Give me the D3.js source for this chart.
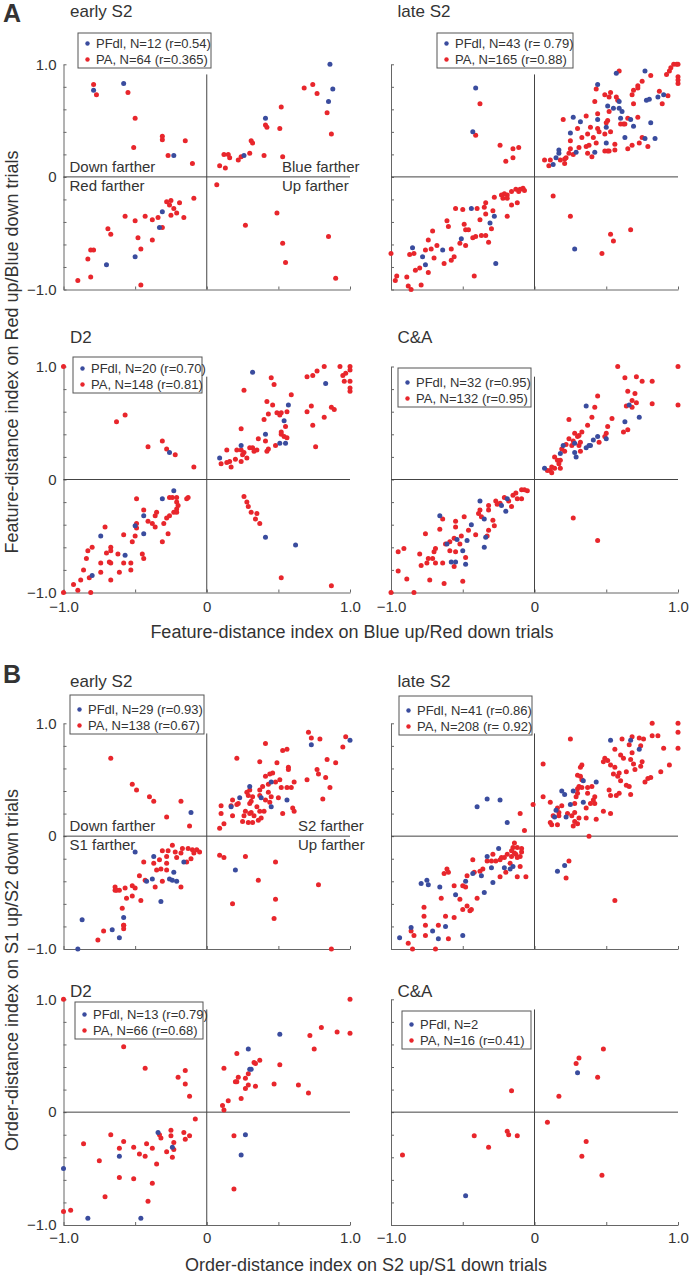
<!DOCTYPE html>
<html><head><meta charset="utf-8">
<script src="https://cdn.jsdelivr.net/npm/d3@7"></script>
<style>
body{margin:0;background:#fff}
svg{display:block}
text{font-family:"Liberation Sans",Arial,Helvetica,sans-serif;fill:#333}
</style>
</head><body>
<svg id="chart" width="691" height="1280"></svg>
<script>
// ---------- tick labels ----------
const yTickValues = [-1,-0.8,-0.6,-0.4,-0.2,0,0.2,0.4,0.6,0.8,1];
const xTickValues = [-1,-0.5,0,0.5,1];
const labeledTicks = [-1,0,1];
const tickLabels = ["−1.0","0","1.0"];

// ---------- titles / legends ----------
const panelTitles = ["early S2","late S2","D2","C&A","early S2","late S2","D2","C&A"];
const blueLegend = ["PFdl, N=12 (r=0.54)","PFdl, N=43 (r= 0.79)","PFdl, N=20 (r=0.70)","PFdl, N=32 (r=0.95)",
                    "PFdl, N=29 (r=0.93)","PFdl, N=41 (r=0.86)","PFdl, N=13 (r=0.79)","PFdl, N=2"];
const redLegend  = ["PA, N=64 (r=0.365)","PA, N=165 (r=0.88)","PA, N=148 (r=0.81)","PA, N=132 (r=0.95)",
                    "PA, N=138 (r=0.67)","PA, N=208 (r= 0.92)","PA, N=66 (r=0.68)","PA, N=16 (r=0.41)"];
const quadLabelsA = ["Down farther","Red farther","Blue farther","Up farther"];
const quadLabelsB = ["Down farther","S1 farther","S2 farther","Up farther"];
const axisTitles = ["Feature-distance index on Blue up/Red down trials","Feature-distance index on Red up/Blue down trials",
                    "Order-distance index on S2 up/S1 down trials","Order-distance index on S1 up/S2 down trials"];

// ---------- data: A early S2 ----------
const aEarlyBlue = [[0.86,1.0],[0.88,0.78],[0.85,0.67],[0.41,0.52],[0.26,0.19],[-0.23,0.19],[-0.58,0.83],[-0.79,0.77],
 [-0.31,-0.31],[-0.33,-0.45],[-0.50,-0.71],[-0.70,-0.78]];
const aEarlyRed = [[-0.79,0.82],[-0.77,0.73],[-0.55,0.75],[-0.50,0.52],[-0.51,0.26],[-0.31,0.36],[-0.31,0.33],[-0.15,0.32],[-0.27,0.19],[-0.10,0.12],
 [0.68,0.79],[0.74,0.82],[0.77,0.74],[0.52,0.62],[0.84,0.57],[0.87,0.38],[0.41,0.46],[0.42,0.44],[0.51,0.43],[0.31,0.32],[0.32,0.30],[0.30,0.21],[0.40,0.19],[0.53,0.18],[0.12,0.20],[0.15,0.20],[0.16,0.17],[0.09,0.10],[0.13,0.08],[0.22,0.15],[0.24,0.18],
 [0.07,-0.07],[0.27,-0.43],[0.49,-0.32],[0.53,-0.59],[0.55,-0.76],[0.85,-0.53],[0.90,-0.90],
 [-0.09,-0.19],[-0.19,-0.23],[-0.25,-0.21],[-0.28,-0.22],[-0.26,-0.25],[-0.23,-0.28],[-0.21,-0.32],[-0.25,-0.34],[-0.16,-0.36],[-0.34,-0.36],[-0.38,-0.38],[-0.43,-0.35],[-0.50,-0.39],[-0.57,-0.35],[-0.31,-0.45],[-0.69,-0.46],[-0.67,-0.51],[-0.48,-0.54],[-0.38,-0.56],[-0.46,-0.64],[-0.81,-0.65],[-0.79,-0.65],[-0.83,-0.73],[-0.81,-0.89],[-0.90,-0.92],[-0.46,-0.96]];

// ---------- data: A late S2 ----------
const aLateBlue = [[0.57,0.92],[0.77,0.94],[0.44,0.82],[-0.41,0.79],[-0.43,0.40],[0.51,0.63],[0.55,0.61],[0.59,0.67],[0.59,0.61],[0.61,0.58],[0.60,0.52],[0.67,0.51],[0.78,0.68],[0.80,0.69],[0.86,0.71],[0.90,0.73],[0.81,0.48],[0.69,0.45],[0.50,0.44],[0.44,0.51],[0.32,0.49],[0.27,0.53],[0.25,0.39],[0.50,0.30],[0.63,0.35],[0.77,0.34],[0.84,0.34],[0.42,0.22],[0.29,0.22],[0.17,0.24],[0.17,0.21],[0.15,0.17],[0.13,0.11],
 [-0.44,-0.28],[-0.28,-0.35],[-0.31,-0.41],[-0.51,-0.55],[-0.64,-0.65],[-0.85,-0.63],[-0.78,-0.71],[-0.76,-0.78],[-0.27,-0.77],[0.28,-0.64]];
const aLateRed = [[-0.38,0.65],[-0.41,0.37],[-0.24,0.28],[-0.15,0.25],[-0.11,0.26],[-0.15,0.17],[-0.20,0.14],
 [0.13,-0.17],[0.25,-0.35],[0.53,-0.51],[0.55,-0.57],[0.67,-0.47],[0.47,-0.68],
 [0.59,0.94],[0.97,1.0],[0.99,1.0],[1.0,1.0],[0.95,0.97],[0.94,0.94],[0.92,0.91],[1.0,0.89],[1.0,0.86],[1.0,0.83],[0.81,0.90],[0.75,0.85],[0.72,0.81],[0.72,0.79],[0.69,0.77],[0.87,0.76],[0.93,0.72],[0.89,0.65],[0.68,0.73],[0.69,0.65],[0.72,0.53],[0.65,0.52],[0.62,0.47],[0.60,0.47],[0.63,0.47],[0.53,0.75],[0.52,0.71],[0.57,0.71],[0.58,0.68],[0.49,0.73],[0.43,0.78],[0.42,0.67],[0.44,0.56],[0.52,0.58],[0.51,0.50],[0.50,0.48],[0.53,0.40],[0.44,0.43],[0.45,0.40],[0.39,0.44],[0.36,0.54],[0.37,0.38],[0.41,0.35],[0.33,0.35],[0.43,0.30],[0.49,0.23],[0.51,0.23],[0.52,0.23],[0.56,0.29],[0.49,0.38],[0.20,0.51],[0.30,0.43],[0.25,0.25],[0.24,0.21],[0.27,0.20],[0.22,0.17],[0.21,0.16],[0.18,0.15],[0.11,0.15],[0.07,0.15],[0.10,0.10],[0.31,0.26],[0.36,0.27],[0.38,0.28],[0.37,0.21],[0.40,0.18],[0.75,0.35],[0.79,0.27],[0.73,0.30],[0.68,0.28],[0.65,0.25],[0.56,0.24],[0.25,0.32],[0.21,0.12],
 [-0.08,-0.10],[-0.07,-0.12],[-0.10,-0.11],[-0.11,-0.13],[-0.13,-0.11],[-0.16,-0.13],[-0.19,-0.16],[-0.21,-0.15],[-0.23,-0.16],[-0.22,-0.19],[-0.19,-0.19],[-0.28,-0.18],[-0.16,-0.25],[-0.12,-0.23],[-0.34,-0.23],[-0.35,-0.27],[-0.40,-0.28],[-0.55,-0.28],[-0.50,-0.29],[-0.29,-0.30],[-0.34,-0.33],[-0.19,-0.35],[-0.38,-0.38],[-0.49,-0.42],[-0.48,-0.47],[-0.46,-0.47],[-0.30,-0.46],[-0.61,-0.39],[-0.60,-0.44],[-0.71,-0.48],[-0.41,-0.53],[-0.37,-0.52],[-0.34,-0.52],[-0.43,-0.54],[-0.52,-0.59],[-0.48,-0.61],[-0.32,-0.58],[-0.74,-0.56],[-0.68,-0.61],[-0.72,-0.64],[-0.58,-0.64],[-0.76,-0.65],[-0.84,-0.68],[-0.87,-0.69],[-1.0,-0.68],[-0.70,-0.72],[-0.63,-0.77],[-0.58,-0.74],[-0.56,-0.71],[-0.83,-0.83],[-0.80,-0.81],[-0.74,-0.85],[-0.96,-0.88],[-0.97,-0.92],[-0.89,-0.89],[-0.88,-0.97],[-0.86,-1.0],[-0.79,-0.96],[-0.42,-0.88]];

// ---------- data: A D2 ----------
const aD2Blue = [[0.32,0.95],[0.83,0.85],[0.57,0.66],[0.54,0.52],[0.41,0.40],[0.24,0.30],[0.51,0.32],[0.55,0.32],[0.09,0.19],[-0.26,0.24],
 [-0.23,-0.10],[-0.31,-0.17],[-0.44,-0.32],[-0.50,-0.41],[-0.44,-0.48],[-0.74,-0.50],[-0.57,-0.67],[-0.80,-0.85],[0.41,-0.51],[0.62,-0.58]];
const aD2Red = [[-1.0,1.0],[-0.63,0.51],[-0.57,0.57],[-0.41,0.29],[-0.31,0.34],[-0.28,0.27],[-0.22,0.22],[-0.09,0.11],
 [0.26,-0.15],[0.28,-0.20],[0.29,-0.24],[0.31,-0.29],[0.35,-0.30],[0.34,-0.35],[0.37,-0.39],[0.52,-0.87],[0.87,-0.94],
 [0.93,1.0],[1.0,1.0],[1.0,0.97],[0.95,0.92],[0.97,0.94],[1.0,0.87],[0.96,0.87],[1.0,0.81],[1.0,0.78],[0.82,1.0],[0.77,0.96],[0.74,0.92],[0.70,0.91],[0.45,0.90],[0.47,0.84],[0.26,0.79],[0.59,0.75],[0.42,0.69],[0.46,0.66],[0.73,0.65],[0.87,0.64],[0.89,0.62],[0.70,0.60],[0.43,0.58],[0.49,0.59],[0.51,0.57],[0.52,0.59],[0.56,0.60],[0.82,0.55],[0.40,0.53],[0.74,0.48],[0.55,0.47],[0.24,0.45],[0.52,0.42],[0.52,0.40],[0.54,0.38],[0.36,0.36],[0.41,0.34],[0.56,0.37],[0.48,0.30],[0.76,0.29],[0.32,0.28],[0.30,0.28],[0.43,0.27],[0.42,0.25],[0.35,0.26],[0.33,0.25],[0.14,0.26],[0.21,0.26],[0.24,0.26],[0.26,0.24],[0.28,0.19],[0.24,0.16],[0.20,0.18],[0.25,0.22],[0.16,0.16],[0.14,0.15],[0.10,0.14],[0.17,0.11],
 [-0.13,-0.16],[-0.14,-0.17],[-0.21,-0.16],[-0.24,-0.16],[-0.26,-0.16],[-0.21,-0.20],[-0.20,-0.23],[-0.21,-0.26],[-0.23,-0.29],[-0.21,-0.29],[-0.26,-0.32],[-0.28,-0.34],[-0.35,-0.29],[-0.36,-0.32],[-0.44,-0.27],[-0.49,-0.17],[-0.41,-0.37],[-0.38,-0.39],[-0.36,-0.42],[-0.30,-0.39],[-0.27,-0.48],[-0.31,-0.55],[-0.49,-0.39],[-0.49,-0.43],[-0.50,-0.50],[-0.52,-0.55],[-0.58,-0.49],[-0.71,-0.42],[-0.67,-0.60],[-0.67,-0.63],[-0.62,-0.66],[-0.70,-0.65],[-0.58,-0.74],[-0.53,-0.74],[-0.53,-0.80],[-0.61,-0.82],[-0.67,-0.74],[-0.68,-0.73],[-0.74,-0.74],[-0.74,-0.82],[-0.67,-0.89],[-0.45,-0.66],[-0.44,-0.70],[-0.83,-0.63],[-0.84,-0.70],[-0.80,-0.60],[-0.86,-0.80],[-0.82,-0.87],[-0.88,-0.89],[-0.93,-0.93],[-0.90,-0.98],[-1.0,-1.0],[-0.81,-1.0]];

// ---------- data: A C&A ----------
const aCABlue = [[0.36,0.65],[0.66,0.66],[0.73,0.55],[0.63,0.51],[0.50,0.36],[0.44,0.38],[0.41,0.35],[0.39,0.30],[0.38,0.30],[0.36,0.28],[0.28,0.32],[0.28,0.24],[0.29,0.20],[0.20,0.30],[0.18,0.23],[0.07,0.10],
 [-0.19,-0.17],[-0.20,-0.28],[-0.23,-0.23],[-0.38,-0.19],[-0.35,-0.35],[-0.34,-0.51],[-0.35,-0.60],[-0.44,-0.40],[-0.47,-0.54],[-0.50,-0.63],[-0.48,-0.75],[-0.54,-0.53],[-0.58,-0.73],[-0.61,-0.57],[-0.66,-0.32],[-0.55,-0.73]];
const aCARed = [[0.58,1.0],[1.0,1.0],[1.0,0.66],[0.82,0.67],[0.82,0.87],[0.75,0.87],[0.71,0.91],[0.63,0.90],[0.65,0.78],[0.70,0.76],[0.68,0.70],[0.71,0.68],[0.64,0.65],[0.68,0.64],[0.44,0.74],[0.42,0.64],[0.40,0.55],[0.37,0.48],[0.24,0.53],[0.54,0.54],[0.51,0.47],[0.65,0.44],[0.62,0.42],[0.50,0.41],[0.49,0.38],[0.45,0.33],[0.33,0.42],[0.31,0.39],[0.28,0.41],[0.30,0.38],[0.27,0.34],[0.31,0.30],[0.32,0.33],[0.26,0.30],[0.22,0.31],[0.24,0.36],[0.19,0.27],[0.21,0.25],[0.18,0.17],[0.14,0.20],[0.16,0.17],[0.17,0.14],[0.12,0.11],[0.18,0.10],[0.14,0.10],[0.11,0.08],[0.09,0.08],[0.12,0.06],[0.32,0.25],
 [0.27,-0.34],[0.44,-0.54],
 [-0.09,-0.09],[-0.05,-0.10],[-0.07,-0.09],[-0.13,-0.12],[-0.15,-0.14],[-0.12,-0.17],[-0.09,-0.17],[-0.16,-0.24],[-0.18,-0.19],[-0.21,-0.16],[-0.27,-0.19],[-0.26,-0.22],[-0.24,-0.21],[-0.32,-0.23],[-0.32,-0.27],[-0.38,-0.27],[-0.39,-0.30],[-0.37,-0.33],[-0.29,-0.36],[-0.28,-0.41],[-0.32,-0.45],[-0.33,-0.50],[-0.41,-0.49],[-0.49,-0.33],[-0.46,-0.45],[-0.51,-0.50],[-0.52,-0.57],[-0.48,-0.69],[-0.55,-0.37],[-0.55,-0.42],[-0.56,-0.52],[-0.59,-0.55],[-0.59,-0.63],[-0.55,-0.64],[-0.56,-0.77],[-0.64,-0.35],[-0.66,-0.44],[-0.76,-0.48],[-0.62,-0.57],[-0.69,-0.61],[-0.70,-0.64],[-0.71,-0.70],[-0.74,-0.70],[-0.75,-0.74],[-0.80,-0.66],[-0.79,-0.76],[-0.69,-0.74],[-0.64,-0.74],[-0.73,-0.89],[-0.63,-0.92],[-0.50,-0.90],[-0.89,-0.88],[-0.95,-0.81],[-0.95,-0.64],[-0.91,-0.61],[-0.84,-1.0],[-1.0,-1.0]];

// ---------- data: B early S2 ----------
const bEarlyBlue = [[1.0,0.85],[0.73,0.81],[0.45,0.48],[0.30,0.44],[0.23,0.34],[0.38,0.34],[0.56,0.32],[0.45,0.26],[0.17,0.26],[-0.11,0.21],[0.20,-0.30],
 [-0.50,-0.14],[-0.37,-0.18],[-0.16,-0.23],[-0.23,-0.32],[-0.26,-0.38],[-0.21,-0.40],[-0.24,-0.39],[-0.38,-0.38],[-0.42,-0.40],[-0.32,-0.58],[-0.58,-0.72],[-0.87,-0.74],[-0.66,-0.83],[-0.61,-0.90],[-0.90,-1.0]];
const bEarlyRed = [[-0.67,0.69],[-0.52,0.46],[-0.49,0.41],[-0.40,0.35],[-0.37,0.31],[-0.18,0.31],[-0.28,0.17],[-0.12,0.09],
 [0.09,-0.17],[0.12,-0.19],[0.27,-0.18],[0.48,-0.23],[0.36,-0.39],[0.78,-0.43],[0.48,-0.56],[0.18,-0.60],[0.47,-0.73],[0.87,-1.0],
 [0.71,0.92],[0.73,0.87],[0.79,0.86],[0.97,0.88],[0.95,0.79],[0.41,0.82],[0.53,0.76],[0.56,0.77],[0.21,0.69],[0.84,0.68],[0.90,0.65],[0.37,0.66],[0.49,0.65],[0.57,0.61],[0.57,0.59],[0.77,0.59],[0.78,0.55],[0.46,0.56],[0.44,0.55],[0.41,0.53],[0.83,0.52],[0.70,0.50],[0.51,0.50],[0.48,0.48],[0.61,0.48],[0.43,0.46],[0.39,0.44],[0.86,0.43],[0.52,0.43],[0.56,0.43],[0.59,0.43],[0.30,0.41],[0.37,0.41],[0.28,0.39],[0.43,0.39],[0.29,0.36],[0.32,0.35],[0.37,0.36],[0.45,0.35],[0.50,0.34],[0.81,0.33],[0.18,0.32],[0.22,0.29],[0.30,0.29],[0.31,0.31],[0.41,0.32],[0.44,0.30],[0.60,0.25],[0.10,0.27],[0.17,0.27],[0.21,0.28],[0.35,0.26],[0.27,0.22],[0.31,0.21],[0.37,0.22],[0.40,0.22],[0.53,0.20],[0.61,0.22],[0.10,0.20],[0.18,0.18],[0.26,0.18],[0.30,0.20],[0.33,0.18],[0.29,0.12],[0.32,0.12],[0.36,0.14],[0.38,0.16],[0.12,0.11],[0.09,0.07],[0.25,0.13],
 [-0.24,-0.08],[-0.17,-0.11],[-0.13,-0.11],[-0.10,-0.12],[-0.07,-0.12],[-0.05,-0.14],[-0.09,-0.15],[-0.11,-0.20],[-0.14,-0.23],[-0.18,-0.15],[-0.22,-0.14],[-0.27,-0.13],[-0.31,-0.13],[-0.28,-0.18],[-0.21,-0.19],[-0.33,-0.21],[-0.37,-0.24],[-0.28,-0.24],[-0.32,-0.29],[-0.28,-0.30],[-0.35,-0.30],[-0.44,-0.23],[-0.47,-0.35],[-0.43,-0.39],[-0.36,-0.45],[-0.31,-0.40],[-0.18,-0.45],[-0.52,-0.44],[-0.50,-0.46],[-0.57,-0.46],[-0.56,-0.55],[-0.64,-0.45],[-0.63,-0.48],[-0.61,-0.48],[-0.64,-0.48],[-0.52,-0.53],[-0.46,-0.57],[-0.59,-0.64],[-0.58,-0.79],[-0.58,-0.82],[-0.58,-0.79],[-0.72,-0.84],[-0.76,-0.92]];

// ---------- data: B late S2 ----------
const bLateBlue = [[0.53,0.85],[0.67,0.85],[0.73,0.77],[0.43,0.48],[0.34,0.49],[0.19,0.40],[0.21,0.37],[0.27,0.40],[0.34,0.30],[0.25,0.28],[0.15,0.23],[0.14,0.17],[0.22,0.17],[-0.33,0.33],[-0.24,0.32],[-0.40,0.26],[-0.19,0.12],[0.16,-0.31],[0.21,-0.26],
 [-0.25,-0.11],[-0.33,-0.18],[-0.15,-0.27],[-0.21,-0.28],[-0.17,-0.29],[-0.30,-0.28],[-0.37,-0.35],[-0.43,-0.33],[-0.48,-0.40],[-0.29,-0.41],[-0.35,-0.50],[-0.55,-0.52],[-0.66,-0.45],[-0.75,-0.39],[-0.74,-0.43],[-0.79,-0.42],[-0.62,-0.80],[-0.71,-0.84],[-0.86,-0.81],[-0.94,-0.90],[-0.67,-0.91],[-0.50,-0.88]];
const bLateRed = [[-0.10,0.20],[-0.07,0.05],[-0.01,0.28],
 [0.24,-0.22],[0.22,-0.37],[0.56,-0.57],[0.38,0.0],
 [0.82,1.0],[1.0,1.0],[1.0,0.92],[1.0,0.78],[0.90,0.78],[0.25,0.86],[0.06,0.64],[0.86,0.89],[0.82,0.89],[0.76,0.86],[0.73,0.87],[0.68,0.88],[0.61,0.86],[0.66,0.81],[0.74,0.80],[0.68,0.74],[0.56,0.77],[0.49,0.69],[0.48,0.66],[0.51,0.67],[0.53,0.63],[0.60,0.72],[0.56,0.61],[0.62,0.69],[0.67,0.68],[0.69,0.64],[0.75,0.66],[0.74,0.62],[0.70,0.59],[0.64,0.57],[0.59,0.56],[0.55,0.55],[0.58,0.53],[0.60,0.49],[0.64,0.45],[0.66,0.44],[0.67,0.37],[0.59,0.38],[0.57,0.36],[0.53,0.36],[0.52,0.41],[0.94,0.63],[0.88,0.57],[0.79,0.51],[0.77,0.48],[0.81,0.52],[0.32,0.61],[0.33,0.63],[0.30,0.54],[0.32,0.53],[0.33,0.50],[0.31,0.44],[0.30,0.42],[0.33,0.43],[0.37,0.43],[0.40,0.44],[0.37,0.38],[0.39,0.29],[0.42,0.29],[0.42,0.35],[0.36,0.25],[0.36,0.16],[0.43,0.15],[0.48,0.22],[0.53,0.20],[0.28,0.21],[0.31,0.16],[0.28,0.13],[0.27,0.09],[0.30,0.11],[0.26,0.18],[0.23,0.20],[0.16,0.25],[0.19,0.27],[0.17,0.21],[0.17,0.18],[0.13,0.18],[0.11,0.12],[0.12,0.10],[0.16,0.10],[0.11,0.30],[0.06,0.35],[0.28,0.29],[0.29,0.35],[0.30,0.38],[0.41,0.32],
 [-0.14,-0.06],[-0.09,-0.11],[-0.09,-0.14],[-0.10,-0.18],[-0.12,-0.10],[-0.15,-0.10],[-0.16,-0.13],[-0.14,-0.15],[-0.13,-0.16],[-0.12,-0.19],[-0.16,-0.18],[-0.19,-0.16],[-0.21,-0.19],[-0.23,-0.19],[-0.24,-0.21],[-0.27,-0.22],[-0.30,-0.22],[-0.33,-0.22],[-0.29,-0.16],[-0.43,-0.21],[-0.20,-0.32],[-0.24,-0.36],[-0.12,-0.36],[-0.06,-0.36],[-0.10,-0.27],[-0.17,-0.24],[-0.36,-0.29],[-0.38,-0.31],[-0.42,-0.32],[-0.47,-0.35],[-0.48,-0.45],[-0.50,-0.44],[-0.56,-0.44],[-0.60,-0.32],[-0.63,-0.33],[-0.61,-0.29],[-0.65,-0.55],[-0.52,-0.56],[-0.47,-0.62],[-0.45,-0.66],[-0.44,-0.65],[-0.50,-0.65],[-0.40,-0.55],[-0.77,-0.63],[-0.77,-0.71],[-0.76,-0.79],[-0.67,-0.79],[-0.62,-0.71],[-0.86,-0.84],[-0.84,-0.88],[-0.76,-0.88],[-0.60,-0.91],[-0.88,-0.95],[-0.85,-1.0],[-0.69,-1.0],[-0.56,-0.72]];

// ---------- data: B D2 ----------
const bD2Blue = [[0.51,0.69],[0.29,0.56],[0.30,0.38],[0.31,0.38],[-0.34,-0.18],[-0.24,-0.31],[-0.61,-0.39],[0.27,-0.20],[0.24,-0.38],[-1.0,-0.50],[-0.83,-0.94],[-0.46,-0.94]];
const bD2Red = [[-1.0,1.0],[1.0,1.0],[-0.58,0.58],[-0.43,0.39],[-0.15,0.37],[-0.20,0.31],[-0.15,0.25],[-0.12,0.14],[-0.08,-0.06],
 [0.12,0.39],[0.21,0.52],[0.22,0.31],[0.20,0.27],[0.21,0.27],[0.27,0.30],[0.29,0.34],[0.29,0.24],[0.27,0.21],[0.24,0.12],[0.15,0.10],[0.11,0.06],[0.12,0.02],[0.33,0.44],[0.34,0.43],[0.37,0.46],[0.34,0.23],[0.51,0.42],[0.47,0.25],[0.64,0.24],[0.71,0.17],[0.75,0.56],[0.72,0.68],[0.80,0.75],[0.91,0.71],[1.0,0.70],
 [0.19,-0.68],[0.19,-0.21],
 [-1.0,-0.88],[-0.95,-0.87],[-0.86,-0.28],[-0.75,-0.43],[-0.71,-0.75],[-0.67,-0.20],[-0.61,-0.32],[-0.58,-0.26],[-0.61,-0.58],[-0.51,-0.59],[-0.51,-0.31],[-0.47,-0.37],[-0.43,-0.39],[-0.42,-0.28],[-0.41,-0.79],[-0.38,-0.32],[-0.38,-0.63],[-0.35,-0.46],[-0.33,-0.20],[-0.32,-0.23],[-0.28,-0.35],[-0.25,-0.16],[-0.25,-0.21],[-0.23,-0.27],[-0.23,-0.33],[-0.24,-0.40],[-0.16,-0.18],[-0.15,-0.24],[-0.12,-0.21]];

// ---------- data: B C&A ----------
const bCABlue = [[0.30,0.35],[-0.48,-0.74]];
const bCARed = [[0.48,0.56],[0.31,0.48],[0.29,0.43],[0.44,0.31],[0.17,0.14],[-0.16,0.19],[0.09,-0.09],[0.36,-0.26],[0.33,-0.39],[0.47,-0.56],
 [-0.19,-0.17],[-0.18,-0.20],[-0.12,-0.21],[-0.42,-0.21],[-0.32,-0.31],[-0.92,-0.38]];

// ---------- layout ----------
const RED = "#e8262c", BLUE = "#3a4c9e", AXIS = "#666", ZERO = "#444";
const colL = [63.5, 350], colR = [391, 678];
const rows = [[64.3, 289.5], [366.5, 592.5], [723.3, 949], [999.3, 1225]];
const titleBase = [16.5, 343, 687, 997];

const panels = [
  {col:colL,row:0,blue:aEarlyBlue,red:aEarlyRed,box:[78,33,133,35],quad:quadLabelsA,quadX:282,xPad:9},
  {col:colR,row:0,blue:aLateBlue,red:aLateRed,box:[437,33,136,35],xPad:9},
  {col:colL,row:1,blue:aD2Blue,red:aD2Red,box:[73,357,129,36],xPad:9,xLab:true},
  {col:colR,row:1,blue:aCABlue,red:aCARed,box:[398,368,133,39],xPad:9,xLab:true},
  {col:colL,row:2,blue:bEarlyBlue,red:bEarlyRed,box:[70,695,134,39],quad:quadLabelsB,quadX:298,xPad:7.5},
  {col:colR,row:2,blue:bLateBlue,red:bLateRed,box:[399,696,133,39],xPad:7.5},
  {col:colL,row:3,blue:bD2Blue,red:bD2Red,box:[75,1002,128,37],xPad:7.5,xLab:true},
  {col:colR,row:3,blue:bCABlue,red:bCARed,box:[402,1011,129,38],xPad:7.5,xLab:true}
];

const svg = d3.select("#chart");
const fmt = d => { const i = labeledTicks.indexOf(Math.round(d*10)/10); return i >= 0 ? tickLabels[i] : ""; };

panels.forEach((p, i) => {
  const x = d3.scaleLinear().domain([-1, 1]).range(p.col);
  const y = d3.scaleLinear().domain([-1, 1]).range([rows[p.row][1], rows[p.row][0]]);
  const left = p.col === colL;
  const g = svg.append("g");

  // y axis
  const ya = g.append("g").attr("transform", `translate(${x(-1)},0)`)
    .call(d3.axisLeft(y).tickValues(yTickValues).tickSizeInner(-3).tickSizeOuter(0).tickPadding(7)
      .tickFormat(left ? fmt : () => ""));
  // x axis
  const xa = g.append("g").attr("transform", `translate(0,${y(-1)})`)
    .call(d3.axisBottom(x).tickValues(xTickValues).tickSizeInner(-3).tickSizeOuter(0).tickPadding(p.xPad)
      .tickFormat(p.xLab ? fmt : () => ""));
  [ya, xa].forEach(a => {
    a.attr("font-family", null).attr("font-size", null);
    a.selectAll("path,line").attr("stroke", AXIS);
    a.selectAll("text").attr("font-size", 15).attr("fill", "#333");
  });

  // zero lines
  g.append("line").attr("x1", x(-1)).attr("x2", x(1)).attr("y1", y(0)).attr("y2", y(0)).attr("stroke", ZERO);
  g.append("line").attr("x1", x(0)).attr("x2", x(0)).attr("y1", y(0.91)).attr("y2", y(-1)).attr("stroke", ZERO);

  // points
  g.append("g").selectAll("circle").data(p.red).join("circle")
    .attr("cx", d => x(d[0])).attr("cy", d => y(d[1])).attr("r", 2.5).attr("fill", RED);
  g.append("g").selectAll("circle").data(p.blue).join("circle")
    .attr("cx", d => x(d[0])).attr("cy", d => y(d[1])).attr("r", 2.5).attr("fill", BLUE);

  // title
  g.append("text").attr("x", p.col[0] + 6.5).attr("y", titleBase[p.row]).attr("font-size", 17).text(panelTitles[i]);

  // quadrant labels
  if (p.quad) {
    const y0 = y(0);
    g.append("text").attr("x", p.col[0] + 6).attr("y", y0 - 5).attr("font-size", 15).text(p.quad[0]);
    g.append("text").attr("x", p.col[0] + 6).attr("y", y0 + 14).attr("font-size", 15).text(p.quad[1]);
    g.append("text").attr("x", p.quadX).attr("y", y0 - 5).attr("font-size", 15).text(p.quad[2]);
    g.append("text").attr("x", p.quadX).attr("y", y0 + 14).attr("font-size", 15).text(p.quad[3]);
  }

  // legend
  const [bx, by, bw, bh] = p.box;
  const lg = g.append("g");
  lg.append("rect").attr("x", bx).attr("y", by).attr("width", bw).attr("height", bh)
    .attr("fill", "#fff").attr("stroke", "#555").attr("stroke-width", 1);
  const l2 = by + bh - 4.5, l1 = l2 - 16;
  [[l1, BLUE, blueLegend[i]], [l2, RED, redLegend[i]]].forEach(([ly, c, t]) => {
    lg.append("circle").attr("cx", bx + 9.5).attr("cy", ly - 4).attr("r", 2.2).attr("fill", c);
    lg.append("text").attr("x", bx + 18).attr("y", ly).attr("font-size", 13).text(t);
  });
});

// section letters
svg.append("text").attr("x", 3).attr("y", 22).attr("font-size", 25).attr("font-weight", "bold").attr("fill", "#111").text("A");
svg.append("text").attr("x", 3).attr("y", 683).attr("font-size", 25).attr("font-weight", "bold").attr("fill", "#111").text("B");

// axis titles
svg.append("text").attr("x", 352).attr("y", 638).attr("text-anchor", "middle").attr("font-size", 18).text(axisTitles[0]);
svg.append("text").attr("transform", "translate(17.5,352) rotate(-90)").attr("text-anchor", "middle").attr("font-size", 18).text(axisTitles[1]);
svg.append("text").attr("x", 366).attr("y", 1271).attr("text-anchor", "middle").attr("font-size", 18).text(axisTitles[2]);
svg.append("text").attr("transform", "translate(17.5,970) rotate(-90)").attr("text-anchor", "middle").attr("font-size", 18).text(axisTitles[3]);
</script>
</body></html>
